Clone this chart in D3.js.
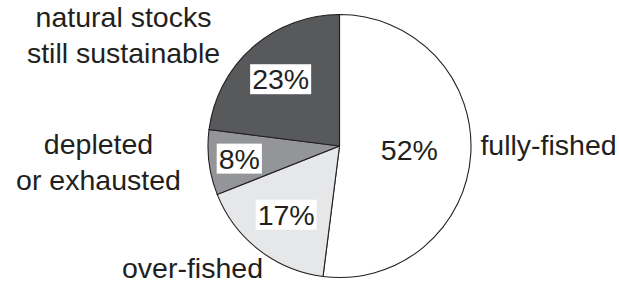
<!DOCTYPE html>
<html>
<head>
<meta charset="utf-8">
<script src="https://cdn.jsdelivr.net/npm/d3@7"></script>
<style>
  body { margin: 0; background: #fff; }
  text { font-family: "Liberation Sans", Arial, sans-serif; fill: #231f20; }
</style>
</head>
<body>
<div id="chart"></div>
<script>
// slice data, clockwise from 12 o'clock
const categories = ['fully-fished', 'over-fished', 'depleted', 'natural'];
const shares = [52, 17, 8, 23];
const pctLabels = ['52%', '17%', '8%', '23%'];
const outerLabels = [
  ['fully-fished'],
  ['over-fished'],
  ['depleted', 'or exhausted'],
  ['natural stocks', 'still sustainable']
];
const fills = ['#ffffff', '#e6e7e8', '#939598', '#58595b'];

const width = 619;
const height = 291;
const cx = 339.5, cy = 146, radius = 131.5;
const fontSize = 28.5;

// where percent labels sit (distance from centre) and whether they get a white box
const pctRadius = [70, 87, 101, 89];
const pctBoxed = [false, true, true, true];
// outer label anchors relative to pie centre
const outerPos = [
  { dx: 209, dy: 9 },
  { dx: -147, dy: 132 },
  { dx: -241, dy: 8 },
  { dx: -216, dy: -119 }
];
const lineGap = 36;

const svg = d3.select('#chart').append('svg')
  .attr('width', width)
  .attr('height', height);

const g = svg.append('g').attr('transform', `translate(${cx},${cy})`);

const pie = d3.pie().sort(null).value(d => d);
const arcs = pie(shares);
const arc = d3.arc().innerRadius(0).outerRadius(radius);

g.selectAll('path.slice')
  .data(arcs)
  .enter()
  .append('path')
  .attr('class', 'slice')
  .attr('d', arc)
  .attr('fill', (d, i) => fills[i])
  .attr('stroke', '#231f20')
  .attr('stroke-width', 1.1);

// percent labels
arcs.forEach((d, i) => {
  const c = d3.arc().innerRadius(pctRadius[i]).outerRadius(pctRadius[i]).centroid(d);
  const lg = g.append('g');
  const t = lg.append('text')
    .attr('x', c[0])
    .attr('y', c[1])
    .attr('dy', '0.35em')
    .attr('text-anchor', 'middle')
    .style('font-size', fontSize + 'px')
    .text(pctLabels[i]);
  if (pctBoxed[i]) {
    const bb = t.node().getBBox();
    lg.insert('rect', 'text')
      .attr('x', bb.x - 2)
      .attr('y', bb.y + 1)
      .attr('width', bb.width + 4)
      .attr('height', bb.height - 2)
      .attr('fill', '#fff');
  }
});

// category labels around the pie
outerLabels.forEach((lines, i) => {
  const t = g.append('text')
    .attr('text-anchor', 'middle')
    .style('font-size', fontSize + 'px');
  lines.forEach((ln, j) => {
    t.append('tspan')
      .attr('x', outerPos[i].dx)
      .attr('y', outerPos[i].dy + j * lineGap)
      .text(ln);
  });
});
</script>
</body>
</html>
